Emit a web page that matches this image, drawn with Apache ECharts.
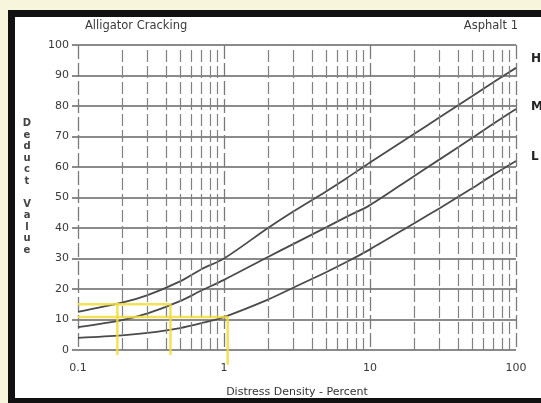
<!DOCTYPE html>
<html>
<head>
<meta charset="utf-8">
<script src="https://cdn.jsdelivr.net/npm/echarts@6/dist/echarts.min.js"></script>
<style>
  html, body { margin: 0; padding: 0; background: #f7f6dc; }
  #chart { width: 541px; height: 403px; }
</style>
</head>
<body>
<div id="chart"></div>
<script>
// distress density (%) where the curves were read
const densities = [0.1, 0.2, 0.3, 0.5, 0.7, 1, 2, 3, 5, 7, 10, 20, 30, 50, 70, 100];
// deduct value per severity
const deductHigh = [12.5, 15.5, 18, 22.5, 26.5, 30, 40, 45.5, 52, 56.5, 61.5, 70.8, 76.3, 83.2, 87.8, 92.5];
const deductMedium = [7.5, 9.8, 12, 16, 19.5, 23, 30.5, 34.8, 40.2, 43.8, 47.5, 57, 62.5, 69.5, 74.2, 79];
const deductLow = [4, 4.8, 5.6, 7.2, 8.8, 10.8, 16.5, 20.5, 25.5, 29, 33, 41.5, 46.5, 53, 57.5, 62];

// minor log grid (2..9 in every decade)
const minorGrid = [0.2, 0.3, 0.4, 0.5, 0.6, 0.7, 0.8, 0.9, 2, 3, 4, 5, 6, 7, 8, 9, 20, 30, 40, 50, 60, 70, 80, 90];

// yellow reading lines drawn on the scan
const guideA = [[0.1, 15], [0.43, 15], [0.43, -1.6]];
const guideB = [[0.186, 15.5], [0.186, -1.6]];
const guideC = [[0.1, 10.8], [1.06, 10.8], [1.06, -4.8]];

const chart = echarts.init(document.getElementById('chart'));

const pairs = (ys) => densities.map((d, i) => [d, ys[i]]);
const txt = '#3a3a3a';
const font = 'DejaVu Sans';

const curve = (name, ys) => ({
  name: name,
  type: 'line',
  data: pairs(ys),
  smooth: 0.3,
  showSymbol: false,
  lineStyle: { color: '#4a4a4a', width: 1.8 },
  z: 4
});

const guide = (pts) => ({
  type: 'line',
  data: pts,
  clip: false,
  showSymbol: false,
  lineStyle: { color: '#f2dc3a', width: 2.5, opacity: 0.85 },
  z: 5
});

const option = {
  animation: false,
  grid: { left: 78, right: 25, top: 45, bottom: 48 },
  xAxis: {
    type: 'log',
    logBase: 10,
    min: 0.1,
    max: 100,
    name: 'Distress Density - Percent',
    nameLocation: 'middle',
    nameGap: 37,
    nameTextStyle: { fontFamily: font, fontSize: 11, color: '#333' },
    axisLine: { show: false },
    axisTick: { show: false },
    axisLabel: { fontFamily: font, fontSize: 11, color: txt, margin: 13 },
    splitLine: { show: true, lineStyle: { color: '#7a7a7a', width: 1.3, type: [14, 4] } }
  },
  yAxis: {
    type: 'value',
    min: 0,
    max: 100,
    interval: 10,
    axisLine: { show: false },
    axisTick: { show: true, length: 6, lineStyle: { color: '#666', width: 1.5 } },
    axisLabel: { fontFamily: font, fontSize: 11, color: txt, margin: 9 },
    splitLine: { show: true, lineStyle: { color: '#656565', width: 1.6 } }
  },
  series: [
    {
      type: 'line',
      data: [],
      markLine: {
        silent: true,
        symbol: 'none',
        label: { show: false },
        lineStyle: { color: '#808080', width: 1.2, type: [12, 4] },
        data: minorGrid.map(v => ({ xAxis: v }))
      }
    },
    curve('H', deductHigh),
    curve('M', deductMedium),
    curve('L', deductLow),
    guide(guideA),
    guide(guideB),
    guide(guideC)
  ],
  graphic: [
    {
      type: 'rect',
      z: -10,
      shape: { x: 11.5, y: 13.5, width: 600, height: 388 },
      style: { fill: '#ffffff', stroke: '#111111', lineWidth: 7 }
    },
    {
      type: 'text', x: 85, y: 20,
      style: { text: 'Alligator Cracking', font: '11.5px "DejaVu Sans"', fill: '#3a3a3a' }
    },
    {
      type: 'text', x: 518, y: 20,
      style: { text: 'Asphalt 1', font: '11.5px "DejaVu Sans"', fill: '#3a3a3a', align: 'right' }
    },
    {
      type: 'text', x: 27, y: 118,
      style: {
        text: 'D\ne\nd\nu\nc\nt\n\nV\na\nl\nu\ne',
        font: 'bold 10px "DejaVu Sans"', fill: '#444', align: 'center', lineHeight: 11.5
      }
    },
    { type: 'text', x: 531, y: 53, style: { text: 'H', font: 'bold 12px "DejaVu Sans"', fill: '#222' } },
    { type: 'text', x: 531, y: 101, style: { text: 'M', font: 'bold 12px "DejaVu Sans"', fill: '#222' } },
    { type: 'text', x: 531, y: 151, style: { text: 'L', font: 'bold 12px "DejaVu Sans"', fill: '#222' } }
  ]
};

chart.setOption(option);
</script>
</body>
</html>
